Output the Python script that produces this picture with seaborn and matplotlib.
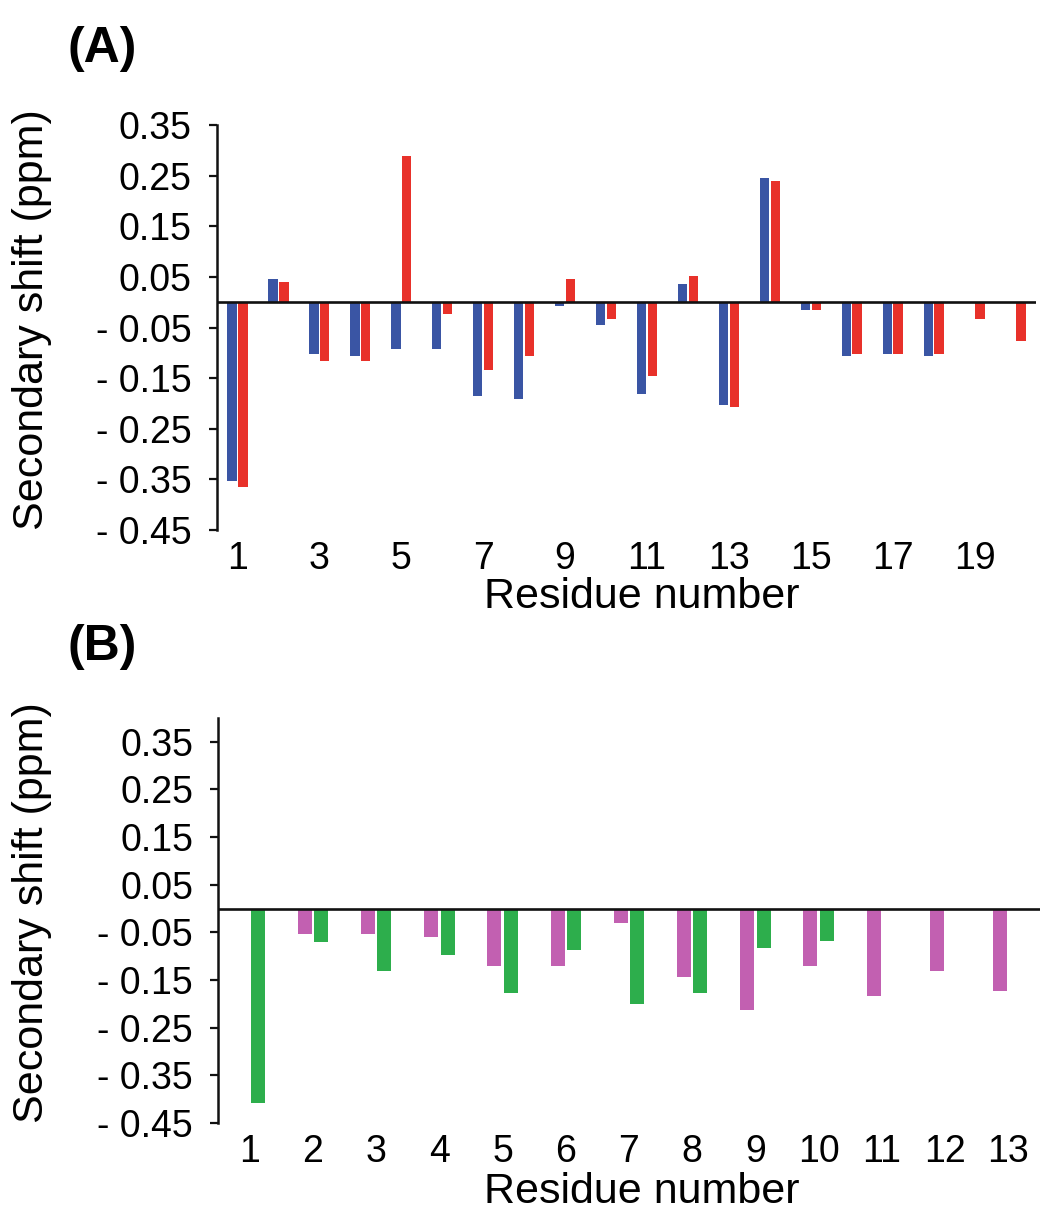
import numpy as np
import pandas as pd
import matplotlib
matplotlib.use("Agg")
import matplotlib.pyplot as plt
import seaborn as sns

# ---------------- data ----------------
residues_a = list(range(1, 21))
blue_a = [-0.354, 0.045, -0.103, -0.107, -0.092, -0.092, -0.186, -0.192, -0.007, -0.045,
          -0.181, 0.036, -0.203, 0.246, -0.016, -0.107, -0.103, -0.107, None, None]
red_a = [-0.366, 0.040, -0.117, -0.117, 0.288, -0.023, -0.134, -0.107, 0.045, -0.034,
         -0.145, 0.051, -0.207, 0.240, -0.015, -0.102, -0.103, -0.103, -0.034, -0.076]

residues_b = list(range(1, 14))
magenta_b = [None, -0.054, -0.054, -0.060, -0.121, -0.121, -0.030, -0.144, -0.212, -0.121,
             -0.183, -0.132, -0.172]
green_b = [-0.407, -0.070, -0.132, -0.098, -0.177, -0.086, -0.200, -0.178, -0.082, -0.069,
           None, None, None]

yticks_a = [0.35, 0.25, 0.15, 0.05, -0.05, -0.15, -0.25, -0.35, -0.45]
ytick_labels = ["0.35", "0.25", "0.15", "0.05", "- 0.05", "- 0.15", "- 0.25", "- 0.35", "- 0.45"]
xtick_labels_a = ["1", "3", "5", "7", "9", "11", "13", "15", "17", "19"]

colors_a = {"set 1": "#3A55A4", "set 2": "#E8312A"}
colors_b = {"set 1": "#C260B1", "set 2": "#2DAE4C"}


def long_frame(res, s1, s2):
    rows = []
    for r, v in zip(res, s1):
        if v is not None:
            rows.append((r, v, "set 1"))
    for r, v in zip(res, s2):
        if v is not None:
            rows.append((r, v, "set 2"))
    return pd.DataFrame(rows, columns=["residue", "shift", "series"])


df_a = long_frame(residues_a, blue_a, red_a)
df_b = long_frame(residues_b, magenta_b, green_b)

# ---------------- style ----------------
sns.set_theme(style="white")
plt.rcParams["font.family"] = ["Liberation Sans", "DejaVu Sans"]
plt.rcParams["text.color"] = "black"
plt.rcParams["axes.labelcolor"] = "black"
plt.rcParams["xtick.color"] = "black"
plt.rcParams["ytick.color"] = "black"

fig = plt.figure(figsize=(10.4, 12.27), dpi=100)
W, H = 1040, 1227
ax_a = fig.add_axes([217 / W, 1 - 530 / H, 819 / W, 405 / H])
ax_b = fig.add_axes([218 / W, 1 - 1123 / H, 822 / W, 405 / H])

TICK_FS = 27
LABEL_FS = 31


def style_axis(ax, ylim):
    ax.set_ylim(*ylim)
    for s in ["top", "right", "bottom"]:
        ax.spines[s].set_visible(False)
    ax.spines["left"].set_linewidth(1.8)
    ax.spines["left"].set_color("#111111")
    ax.axhline(0, color="#111111", lw=1.9, zorder=5)
    ax.set_yticks(yticks_a)
    ax.set_yticklabels(ytick_labels)
    ax.tick_params(axis="y", direction="out", length=6, width=1.6, color="#111111",
                   labelcolor="black", labelsize=TICK_FS, pad=12, left=True)
    ax.tick_params(axis="x", length=0, labelsize=TICK_FS, labelcolor="black", bottom=True)


# Panel A
sns.barplot(data=df_a, x="residue", y="shift", hue="series", order=residues_a,
            hue_order=["set 1", "set 2"], palette=colors_a, saturation=1,
            width=0.53, gap=0.14, linewidth=0, legend=False, ax=ax_a)
style_axis(ax_a, (-0.45, 0.35))
ax_a.set_xlim(-0.5, len(residues_a) - 0.5)
ax_a.set_xticks(list(range(0, 20, 2)))
ax_a.set_xticklabels(xtick_labels_a)
ax_a.tick_params(axis="x", pad=8)
ax_a.set_xlabel("Residue number", fontsize=LABEL_FS, va="baseline", color="black")
ax_a.xaxis.set_label_coords((642 - 217) / 819, (530 - 608) / 405)
ax_a.set_ylabel("Secondary shift (ppm)", fontsize=LABEL_FS, va="center", color="black")
ax_a.yaxis.set_label_coords((32 - 217) / 819, (530 - 320) / 405)

# Panel B
sns.barplot(data=df_b, x="residue", y="shift", hue="series", order=residues_b,
            hue_order=["set 1", "set 2"], palette=colors_b, saturation=1,
            width=0.52, gap=0.15, linewidth=0, legend=False, ax=ax_b)
style_axis(ax_b, (-0.45, 0.40))
ax_b.set_xlim(-0.5, len(residues_b) - 0.5)
ax_b.set_xticks(list(range(len(residues_b))))
ax_b.set_xticklabels([str(r) for r in residues_b])
ax_b.tick_params(axis="x", pad=8)
ax_b.set_xlabel("Residue number", fontsize=LABEL_FS, va="baseline", color="black")
ax_b.xaxis.set_label_coords((642 - 218) / 822, (1123 - 1203) / 405)
ax_b.set_ylabel("Secondary shift (ppm)", fontsize=LABEL_FS, va="center", color="black")
ax_b.yaxis.set_label_coords((32 - 218) / 822, (1123 - 913) / 405)

# Panel letters
fig.text(67 / W, 1 - 62 / H, "(A)", fontsize=36, fontweight="bold", ha="left", va="baseline",
         color="black")
fig.text(67 / W, 1 - 660 / H, "(B)", fontsize=36, fontweight="bold", ha="left", va="baseline",
         color="black")

fig.savefig("out.png", dpi=100, facecolor="white")
